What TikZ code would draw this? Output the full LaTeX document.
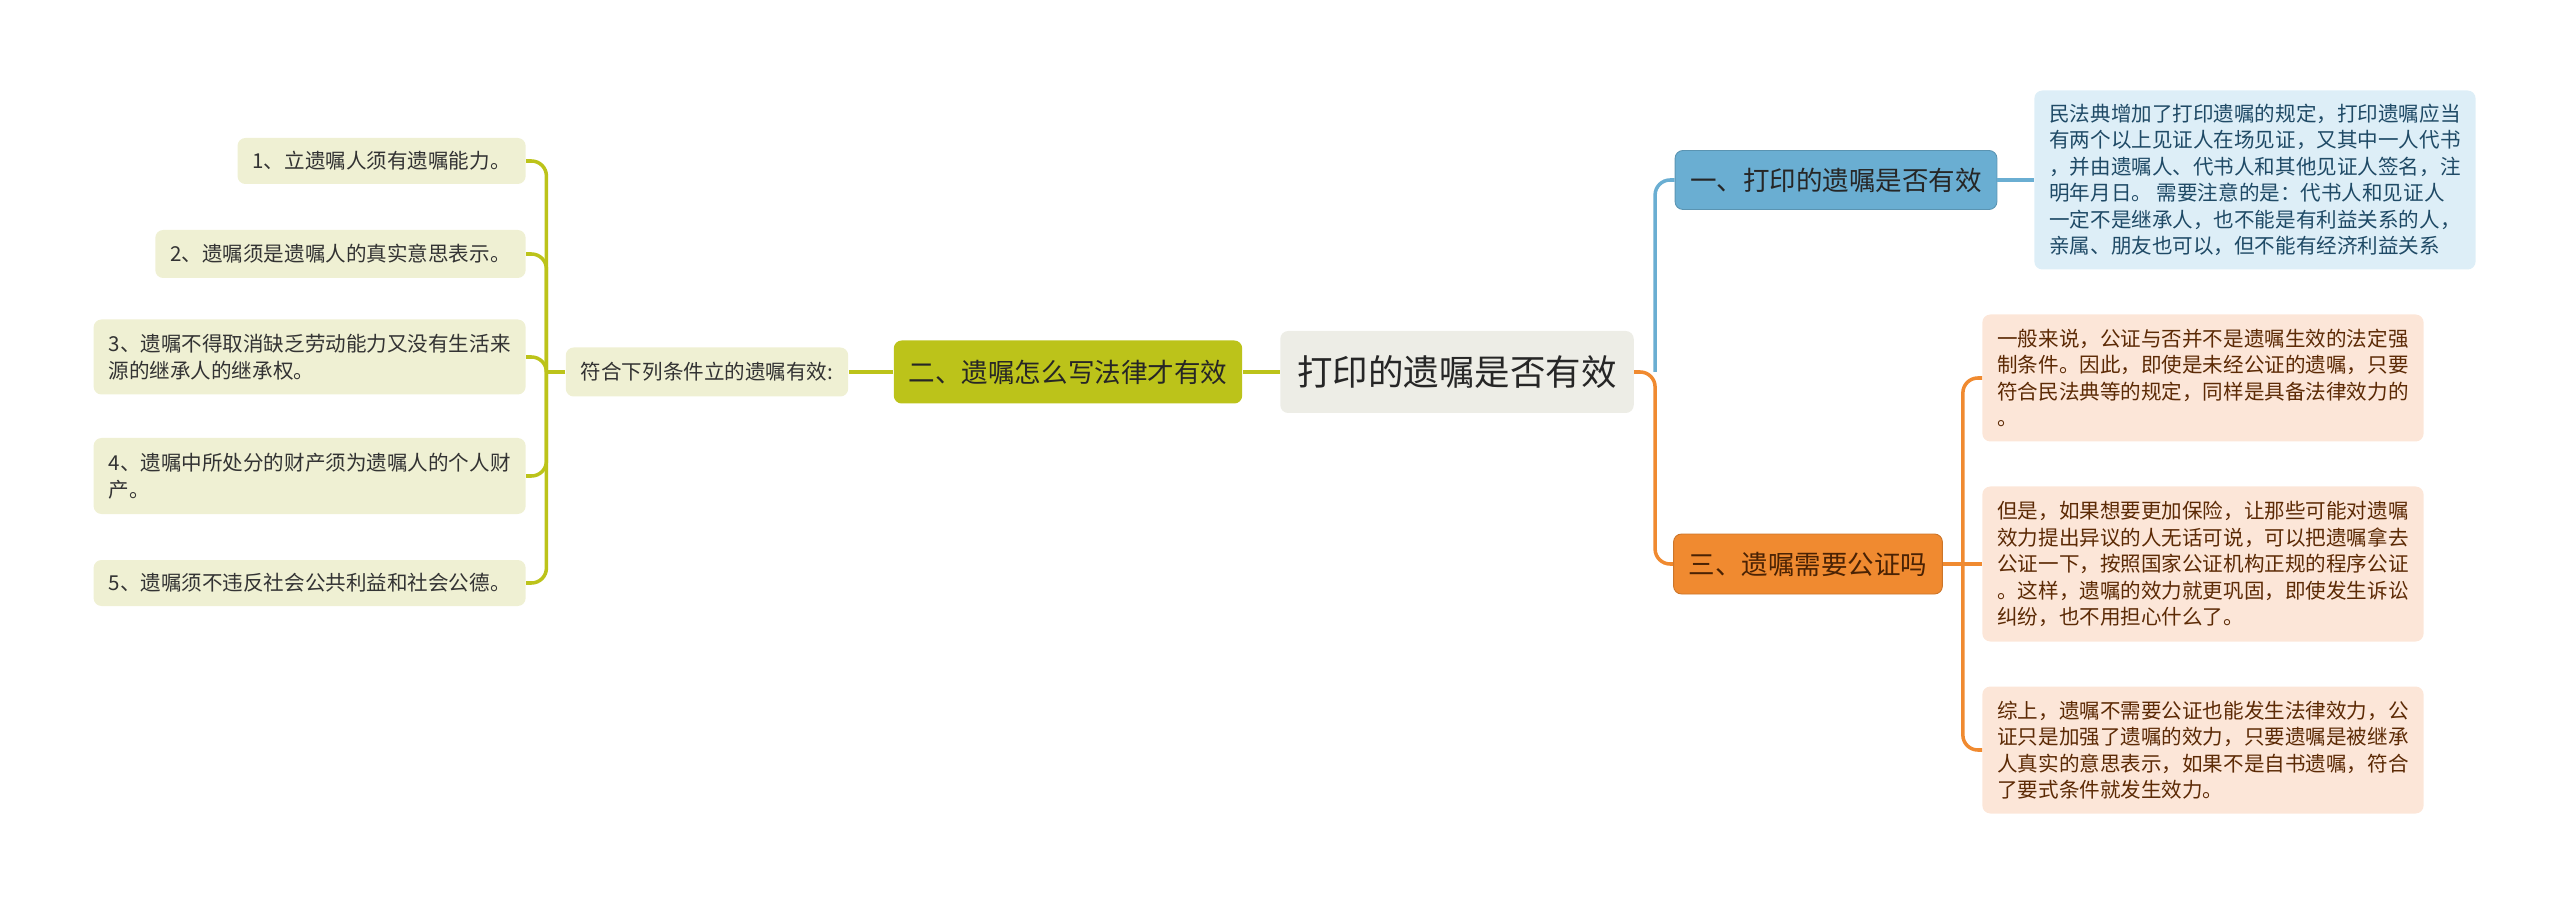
\documentclass[tikz,border=0pt]{standalone}
\usepackage{fontspec}
\setmainfont{Noto Sans CJK SC}
\definecolor{rootfill}{HTML}{EDEDE6}
\definecolor{bluemain}{HTML}{6AAED2}
\definecolor{bluelight}{HTML}{DDEEF7}
\definecolor{bluetext}{HTML}{1F4A66}
\definecolor{orangemain}{HTML}{F08A30}
\definecolor{orangelight}{HTML}{FCE6D8}
\definecolor{orangetext}{HTML}{5C2A05}
\definecolor{greenmain}{HTML}{BCC31A}
\definecolor{greenlight}{HTML}{EFF0D3}

\begin{document}
\begin{tikzpicture}[
  box/.style={rounded corners=4.5pt,inner xsep=0.3cm,inner ysep=0.15cm,align=left},
  leaffont/.style={font=\fontsize{11.7}{15.1}\selectfont},
  branchfont/.style={font=\fontsize{15.1}{18}\selectfont},
  conn/.style={line width=2pt,rounded corners=0.3cm},
  bluebox/.style={box,leaffont,fill=bluelight,text=bluetext,minimum width=8.66cm},
  orangebox/.style={box,leaffont,fill=orangelight,text=orangetext,minimum width=8.66cm},
  greenbox/.style={box,leaffont,fill=greenlight,text=black!80}
]
\useasboundingbox (0,0) rectangle (51.2,18.06);

\node[box,fill=rootfill,text=black!85,font=\fontsize{20.2}{24}\selectfont,inner xsep=0.34cm,minimum height=1.64cm] (root) at (29.14,10.62) {打印的遗嘱是否有效};

\node[box,branchfont,fill=bluemain,draw=bluemain!85!black,line width=0.5pt,text=black!85,minimum height=1.18cm] (b1) at (36.72,14.46) {一、打印的遗嘱是否有效};
\node[box,branchfont,fill=orangemain,draw=orangemain!85!black,line width=0.5pt,text=orangetext!80!black,minimum height=1.2cm] (b3) at (36.16,6.78) {三、遗嘱需要公证吗};
\node[box,branchfont,fill=greenmain,text=black!85,minimum height=1.26cm] (b2) at (21.36,10.62) {二、遗嘱怎么写法律才有效};

\node[bluebox,anchor=west,minimum height=3.58cm] (lawtext) at (40.68,14.46) {民法典增加了打印遗嘱的规定，打印遗嘱应当\\有两个以上见证人在场见证，又其中一人代书\\，并由遗嘱人、代书人和其他见证人签名，注\\明年月日。 需要注意的是：代书人和见证人\\一定不是继承人，也不能是有利益关系的人，\\亲属、朋友也可以，但不能有经济利益关系};

\node[orangebox,anchor=west,minimum height=2.54cm] (o1) at (39.64,10.5) {一般来说，公证与否并不是遗嘱生效的法定强\\制条件。因此，即使是未经公证的遗嘱，只要\\符合民法典等的规定，同样是具备法律效力的\\。};
\node[orangebox,anchor=west,minimum height=3.1cm] (o2) at (39.64,6.78) {但是，如果想要更加保险，让那些可能对遗嘱\\效力提出异议的人无话可说，可以把遗嘱拿去\\公证一下，按照国家公证机构正规的程序公证\\。这样，遗嘱的效力就更巩固，即使发生诉讼\\纠纷，也不用担心什么了。};
\node[orangebox,anchor=west,minimum height=2.54cm] (o3) at (39.64,3.06) {综上，遗嘱不需要公证也能发生法律效力，公\\证只是加强了遗嘱的效力，只要遗嘱是被继承\\人真实的意思表示，如果不是自书遗嘱，符合\\了要式条件就发生效力。};

\node[greenbox,minimum height=0.98cm] (cond) at (14.14,10.62) {符合下列条件立的遗嘱有效:};
\node[greenbox,anchor=east,minimum height=0.92cm] (g1) at (10.52,14.84) {1、立遗嘱人须有遗嘱能力。};
\node[greenbox,anchor=east,minimum height=0.96cm] (g2) at (10.52,12.98) {2、遗嘱须是遗嘱人的真实意思表示。};
\node[greenbox,anchor=east,minimum height=1.5cm] (g3) at (10.52,10.92) {3、遗嘱不得取消缺乏劳动能力又没有生活来\\源的继承人的继承权。};
\node[greenbox,anchor=east,minimum height=1.52cm] (g4) at (10.52,8.54) {4、遗嘱中所处分的财产须为遗嘱人的个人财\\产。};
\node[greenbox,anchor=east,minimum height=0.92cm] (g5) at (10.52,6.4) {5、遗嘱须不违反社会公共利益和社会公德。};

\coordinate (rj) at ([xshift=0.42cm]root.east);
\coordinate (oj) at ([xshift=0.4cm]b3.east);
\coordinate (gj) at ([xshift=-0.38cm]cond.west);

\draw[conn,bluemain] (rj) |- (b1.west);
\draw[conn,orangemain] (root.east) -- (rj) |- (b3.west);
\draw[conn,bluemain] (b1.east) -- (lawtext.west);
\draw[conn,orangemain] (b3.east) -- (o2.west);
\draw[conn,orangemain] (oj) |- (o1.west);
\draw[conn,orangemain] (oj) |- (o3.west);
\draw[conn,greenmain] (root.west) -- (b2.east);
\draw[conn,greenmain] (b2.west) -- (cond.east);
\draw[conn,greenmain] (cond.west) -- (gj);
\draw[conn,greenmain] (gj) |- (g1.east);
\draw[conn,greenmain] (gj) |- (g2.east);
\draw[conn,greenmain] (gj) |- (g3.east);
\draw[conn,greenmain] (gj) |- (g4.east);
\draw[conn,greenmain] (gj) |- (g5.east);
\end{tikzpicture}
\end{document}
